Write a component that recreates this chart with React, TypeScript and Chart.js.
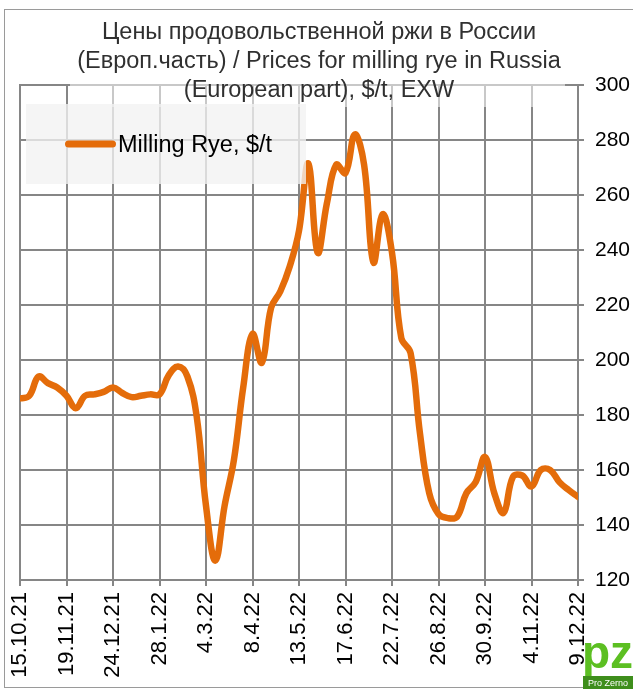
import { useEffect, useRef } from 'react';
import { Chart, registerables } from 'chart.js';

Chart.register(...registerables);

const titleLines = [
  'Цены продовольственной ржи в России',
  '(Европ.часть) / Prices for milling rye in Russia',
  '(European part), $/t, EXW',
];
const seriesName = 'Milling Rye, $/t';

// x tick labels (every 5th weekly observation)
const tickLabels = [
  '15.10.21', '19.11.21', '24.12.21', '28.1.22', '4.3.22', '8.4.22', '13.5.22',
  '17.6.22', '22.7.22', '26.8.22', '30.9.22', '4.11.22', '9.12.22',
];

// weekly prices, 15.10.21 .. 9.12.22
const prices = [
  186, 187, 194, 191.6, 190, 187, 182.5, 187, 187.5, 188.4,
  190, 188, 186.5, 187, 187.5, 187.5, 194.5, 197.6, 194, 179.4,
  147, 127, 147, 163.6, 190, 209.5, 199, 219, 225, 234,
  247, 271.5, 239, 257, 271, 268, 282, 271, 235.5, 253,
  239, 208, 202.5, 173.5, 151.6, 144, 142.5, 143, 151.6, 155.6,
  164.7, 151.6, 144.4, 157.5, 158, 154, 160, 160, 155.6, 152.7,
  150.2,
];

const FONT = "'Liberation Sans', Arial, sans-serif";
const ORANGE = '#e46c0a';
const GRID = '#868686';
const TICK_LEN = 6;

// grid bars placed with the library's own scales
const gridPlugin = {
  id: 'gridBars',
  beforeDatasetsDraw(chart: any) {
    const { ctx, chartArea: a, scales } = chart;
    const xs = scales.x;
    const ys = scales.y;
    ctx.save();
    ctx.fillStyle = GRID;
    for (const t of xs.ticks) {
      const px = Math.round(xs.getPixelForValue(t.value));
      ctx.fillRect(px - 1, Math.round(a.top) - 1, 2, Math.round(a.bottom - a.top) + TICK_LEN + 1);
    }
    for (const t of ys.ticks) {
      const py = Math.round(ys.getPixelForValue(t.value));
      ctx.fillRect(Math.round(a.left) - 1, py - 1, Math.round(a.right - a.left) + TICK_LEN + 1, 2);
    }
    ctx.restore();
  },
};

const decorPlugin = {
  id: 'decor',
  afterDatasetsDraw(chart: any) {
    const ctx = chart.ctx as CanvasRenderingContext2D;
    ctx.save();
    // semi-transparent title background
    ctx.fillStyle = 'rgba(255,255,255,0.55)';
    ctx.fillRect(70, 14, 495, 93);
    // title
    ctx.fillStyle = '#303030';
    ctx.font = `23.5px ${FONT}`;
    ctx.textAlign = 'center';
    ctx.textBaseline = 'alphabetic';
    const baselines = [39, 68, 97];
    titleLines.forEach((t, i) => ctx.fillText(t, 319, baselines[i]));

    // legend box
    ctx.fillStyle = 'rgba(242,242,242,0.78)';
    ctx.fillRect(26, 104, 280, 80);
    ctx.strokeStyle = ORANGE;
    ctx.lineWidth = 7;
    ctx.lineCap = 'round';
    ctx.beginPath();
    ctx.moveTo(68.5, 144);
    ctx.lineTo(112.5, 144);
    ctx.stroke();
    ctx.fillStyle = '#000';
    ctx.textAlign = 'left';
    ctx.font = `23.5px ${FONT}`;
    ctx.fillText(seriesName, 118, 152);

    // outer border
    ctx.strokeStyle = '#9a9a9a';
    ctx.lineWidth = 1;
    ctx.strokeRect(4.5, 9.5, 700, 678);

    // logo
    ctx.fillStyle = '#5cbf22';
    ctx.font = `bold 46px ${FONT}`;
    ctx.textAlign = 'left';
    ctx.fillText('pz', 582, 668);
    ctx.fillStyle = '#3e8e1c';
    ctx.fillRect(583, 676, 50, 13);
    ctx.fillStyle = '#fff';
    ctx.font = `9px ${FONT}`;
    ctx.fillText('Pro Zerno', 588, 686);
    ctx.restore();
  },
};

export default function App() {
  const ref = useRef<HTMLCanvasElement | null>(null);
  useEffect(() => {
    document.body.style.margin = '0';
    Chart.defaults.font.family = FONT;
    const canvas = ref.current!;
    const chart = new Chart(canvas, {
      type: 'line',
      data: {
        datasets: [
          {
            label: seriesName,
            data: prices.map((v, i) => ({ x: i, y: v })),
            borderColor: ORANGE,
            backgroundColor: ORANGE,
            borderWidth: 6.5,
            pointRadius: 0,
            tension: 0.4,
            borderCapStyle: 'round',
            borderJoinStyle: 'round',
            fill: false,
          },
        ],
      },
      options: {
        responsive: false,
        animation: false,
        layout: { padding: { left: 20, top: 85, right: 0, bottom: 0 } },
        plugins: { legend: { display: false }, title: { display: false }, tooltip: { enabled: false } },
        scales: {
          x: {
            type: 'linear',
            min: 0,
            max: (tickLabels.length - 1) * 5,
            afterFit: (s: any) => { s.height = 109; },
            grid: { display: false, drawTicks: true, tickLength: TICK_LEN },
            border: { display: false },
            ticks: {
              stepSize: 5,
              autoSkip: false,
              minRotation: 90,
              maxRotation: 90,
              padding: 6,
              color: '#000',
              font: { size: 22, family: FONT },
              callback: (v: any) => tickLabels[Math.round(Number(v) / 5)] ?? '',
            },
          },
          y: {
            position: 'right',
            min: 120,
            max: 300,
            afterFit: (s: any) => { s.width = 55; },
            grid: { display: false, drawTicks: true, tickLength: TICK_LEN },
            border: { display: false },
            ticks: {
              stepSize: 20,
              padding: 11,
              color: '#000',
              font: { size: 21, family: FONT },
            },
          },
        },
      },
      plugins: [gridPlugin, decorPlugin],
    } as any);
    return () => chart.destroy();
  }, []);
  return <canvas ref={ref} width={633} height={689} style={{ display: 'block' }} />;
}
